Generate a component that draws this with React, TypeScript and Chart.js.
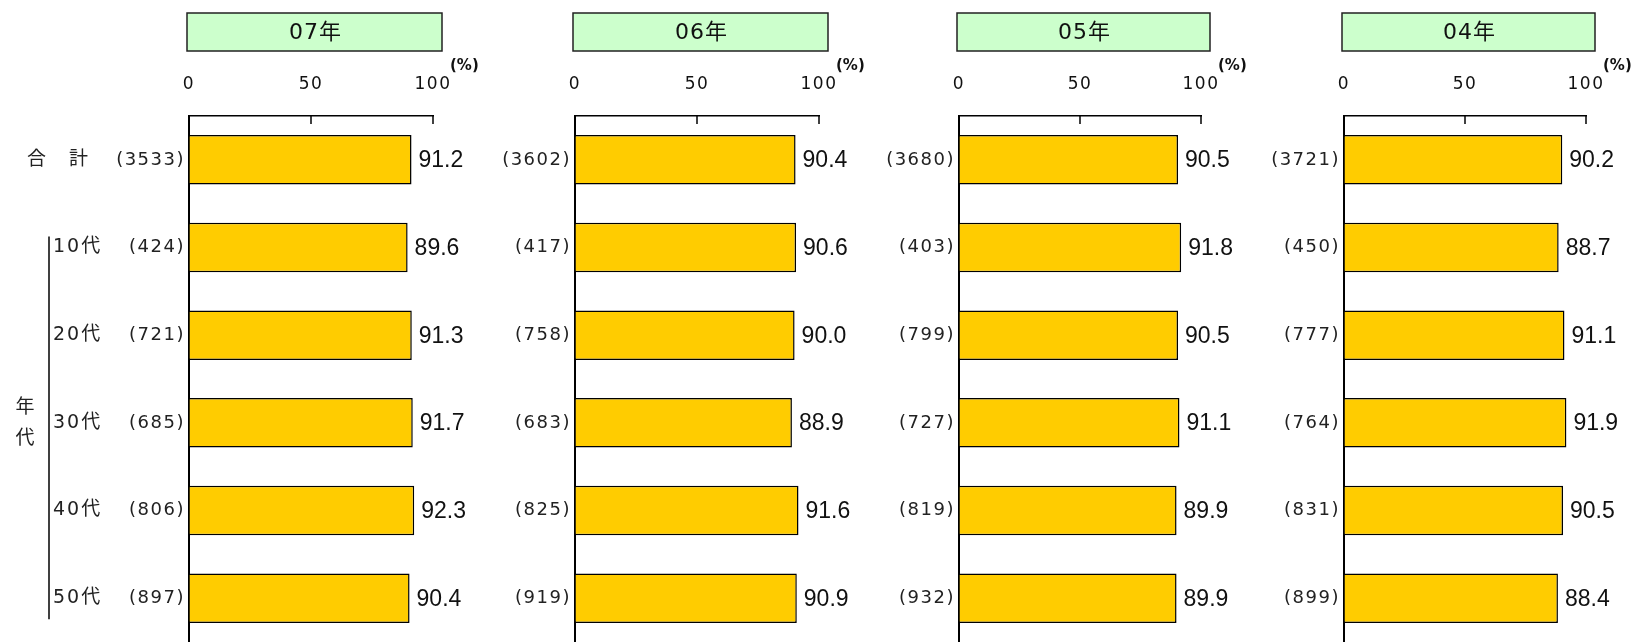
import React, { useEffect, useRef } from 'react';
import { Chart, registerables } from 'chart.js';

Chart.register(...registerables);

// ---- data ----
const years = ['07年', '06年', '05年', '04年'];
const categories = ['合　計', '10代', '20代', '30代', '40代', '50代'];
const groupLabel = ['年', '代'];
const xTicks = [0, 50, 100];
const unitLabel = '(%)';

const counts07 = [3533, 424, 721, 685, 806, 897];
const values07 = [91.2, 89.6, 91.3, 91.7, 92.3, 90.4];
const counts06 = [3602, 417, 758, 683, 825, 919];
const values06 = [90.4, 90.6, 90.0, 88.9, 91.6, 90.9];
const counts05 = [3680, 403, 799, 727, 819, 932];
const values05 = [90.5, 91.8, 90.5, 91.1, 89.9, 89.9];
const counts04 = [3721, 450, 777, 764, 831, 899];
const values04 = [90.2, 88.7, 91.1, 91.9, 90.5, 88.4];

const allCounts = [counts07, counts06, counts05, counts04];
const allValues = [values07, values06, values05, values04];

// ---- layout (not data) ----
const panelLeft = [189, 575, 959, 1344];
const panelWidth = [244, 244, 242, 242];
const Y_AXIS_W = 189;
const CANVAS_W = 503;
const H = 642;
const TOP = 116;

const bitmapFont = '"DejaVu Sans", "Noto Sans CJK JP", sans-serif';
const valueFont = '"Liberation Sans", Arial, sans-serif';

function makeDecor(idx: number) {
  return {
    id: 'decor' + idx,
    beforeDraw(chart: any) {
      chart.ctx.letterSpacing = '1.5px';
    },
    afterDatasetsDraw(chart: any) {
      const ctx = chart.ctx;
      const meta = chart.getDatasetMeta(0);
      const vals = allValues[idx];
      ctx.save();
      ctx.letterSpacing = '0px';
      ctx.font = `23px ${valueFont}`;
      ctx.fillStyle = '#111';
      ctx.textAlign = 'left';
      ctx.textBaseline = 'middle';
      meta.data.forEach((bar: any, i: number) => {
        ctx.fillText(vals[i].toFixed(1), bar.x + 7, bar.y + 1);
      });
      ctx.restore();
    },
    afterDraw(chart: any) {
      const ctx = chart.ctx;
      const xs = chart.scales.x;
      const ys = chart.scales.y;
      const top = chart.chartArea.top;
      const x0 = xs.getPixelForValue(0);
      const x100 = xs.getPixelForValue(100);
      ctx.save();
      // inward tick marks
      ctx.strokeStyle = '#000';
      ctx.lineWidth = 1.5;
      xTicks.slice(1).forEach((t) => {
        const x = xs.getPixelForValue(t);
        ctx.beginPath();
        ctx.moveTo(x, top);
        ctx.lineTo(x, top + 8);
        ctx.stroke();
      });
      // title box
      const bx = x0 - 2;
      const bw = x100 + 9 - bx;
      ctx.fillStyle = '#CCFFCC';
      ctx.fillRect(bx, 13, bw, 38);
      ctx.strokeStyle = '#222';
      ctx.lineWidth = 1.5;
      ctx.strokeRect(bx, 13, bw, 38);
      ctx.letterSpacing = '1px';
      ctx.fillStyle = '#111';
      ctx.font = `22px ${bitmapFont}`;
      ctx.textAlign = 'center';
      ctx.textBaseline = 'middle';
      ctx.fillText(years[idx], bx + bw / 2 + 1, 33);
      // unit
      ctx.letterSpacing = '0px';
      ctx.font = `bold 15px ${bitmapFont}`;
      ctx.textAlign = 'left';
      ctx.fillText(unitLabel, x100 + 17, 66);
      // left labels on first panel
      if (idx === 0) {
        ctx.letterSpacing = '2px';
        ctx.font = `19px ${bitmapFont}`;
        ctx.fillStyle = '#222';
        ctx.textBaseline = 'middle';
        categories.forEach((c, i) => {
          const y = ys.getPixelForValue(i);
          ctx.fillText(c, i === 0 ? 27 : 53, y);
        });
        const bTop = ys.getPixelForValue(1) - 11;
        const bBot = ys.getPixelForValue(5) + 21;
        ctx.strokeStyle = '#000';
        ctx.lineWidth = 1.5;
        ctx.beginPath();
        ctx.moveTo(49, bTop);
        ctx.lineTo(49, bBot);
        ctx.stroke();
        ctx.letterSpacing = '0px';
        ctx.textAlign = 'center';
        const mid = ys.getPixelForValue(3);
        ctx.fillText(groupLabel[0], 25, mid - 15);
        ctx.fillText(groupLabel[1], 25, mid + 16);
      }
      ctx.restore();
    },
  };
}

function Panel({ idx }: { idx: number }) {
  const ref = useRef<HTMLCanvasElement>(null);
  useEffect(() => {
    const counts = allCounts[idx];
    const chart = new Chart(ref.current as HTMLCanvasElement, {
      type: 'bar',
      data: {
        labels: categories,
        datasets: [
          {
            data: allValues[idx],
            backgroundColor: '#FFCC00',
            borderColor: '#000',
            borderWidth: 1.5,
            barPercentage: 0.565,
            categoryPercentage: 1,
          },
        ],
      },
      options: {
        indexAxis: 'y',
        animation: false,
        responsive: false,
        devicePixelRatio: 1,
        layout: {
          padding: { left: 0, top: 0, right: CANVAS_W - Y_AXIS_W - panelWidth[idx], bottom: -4 },
        },
        plugins: {
          legend: { display: false },
          tooltip: { enabled: false },
          title: { display: false },
        },
        scales: {
          x: {
            position: 'top',
            min: 0,
            max: 100,
            afterBuildTicks: (s: any) => {
              s.ticks = xTicks.map((v) => ({ value: v }));
            },
            ticks: {
              padding: 21,
              color: '#111',
              font: { family: bitmapFont, size: 17 },
              maxRotation: 0,
            },
            grid: { drawOnChartArea: false, drawTicks: false },
            border: { color: '#000', width: 1.5 },
            afterFit: (s: any) => {
              s.height = TOP;
              s.paddingLeft = 0;
              s.paddingRight = 0;
            },
          },
          y: {
            ticks: {
              callback: (_v: any, i: number) => `(${counts[i]})`,
              padding: 4,
              color: '#222',
              font: { family: bitmapFont, size: 18 },
              autoSkip: false,
            },
            grid: { drawOnChartArea: false, drawTicks: false },
            border: { color: '#000', width: 2 },
            afterFit: (s: any) => {
              s.width = Y_AXIS_W;
              s.paddingTop = 0;
              s.paddingBottom = 0;
            },
          },
        },
      } as any,
      plugins: [makeDecor(idx)],
    });
    return () => chart.destroy();
  }, [idx]);
  return (
    <canvas
      ref={ref}
      width={CANVAS_W}
      height={H}
      style={{ position: 'absolute', left: panelLeft[idx] - Y_AXIS_W, top: 0, width: CANVAS_W, height: H }}
    />
  );
}

export default function App() {
  return (
    <div
      style={{
        position: 'fixed',
        left: 0,
        top: 0,
        width: 1634,
        height: 642,
        overflow: 'hidden',
        background: '#fff',
      }}
    >
      {years.map((_, i) => (
        <Panel key={i} idx={i} />
      ))}
    </div>
  );
}
